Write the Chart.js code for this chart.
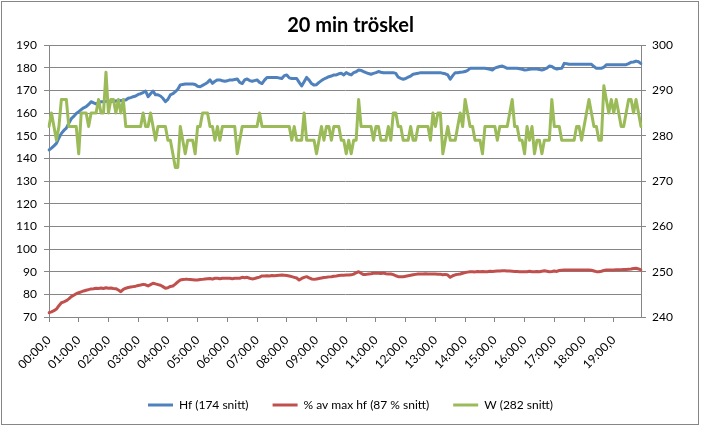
<!DOCTYPE html>
<html><head><meta charset="utf-8">
<script src="https://cdn.jsdelivr.net/npm/chart.js@4.4.1/dist/chart.umd.min.js"></script>
<style>html,body{margin:0;padding:0;background:#fff}#wrap{position:relative;width:701px;height:427px}</style>
</head><body><div id="wrap"><canvas id="c"></canvas></div>
<script>
const chartTitle = '20 min tröskel';
const seriesNames = ['Hf (174 snitt)', '% av max hf (87 % snitt)', 'W (282 snitt)'];

// Hf (left axis), one value every 5 s, 12 per minute row
const hf = [
143.7,144.5,145.5,146.6,149,151,152.3,153.3,155.5,157.5,158.5,159.8,
160.6,161.5,162.3,162.8,163.8,165,164.5,164,164.5,165,165,165.2,
165.3,165,165.5,165.2,165.6,165.4,165.7,165.7,166.5,166.8,167.2,167.5,
168.2,168.5,169,169.7,167.2,168.5,169.7,168,168,167.5,166.5,165,
166,168,168.5,169.4,170.5,172.4,172.6,172.8,172.8,172.8,172.8,172.6,
171.8,171.6,172.2,172.8,173.5,174.6,173.1,174,174.6,174.6,174.2,174,
174.2,174.6,174.6,174.8,175,173.5,173,174.6,175,174.3,174,174.3,
174.6,173.5,173,174.5,175.7,175.7,175.7,175.7,175.7,175.4,175.2,176.5,
176.8,175.5,175.2,175.2,175.2,173.5,171.9,173.8,175.7,174.5,173,172.3,
172.5,173.5,174.3,175,175.5,176,176.3,176.8,176.8,177.3,177.5,176.8,
177.8,177.2,176.8,177.8,178.2,179,178.8,178.3,177.8,177.4,177.1,177.5,
177.8,178.3,178,177.8,177.8,177.8,177.8,177.8,177.5,175.8,175.3,174.9,
175.2,175.8,176.3,177.1,177.3,177.5,177.8,177.8,177.8,177.8,177.8,177.8,
177.8,177.8,177.8,177.5,177.3,176.8,174.9,176.5,177.8,177.8,178,178.1,
178.3,178.8,179.7,179.7,179.7,179.7,179.7,179.7,179.7,179.5,179.3,179,
179.8,180.2,180.5,180.7,180.2,179.7,179.7,179.7,179.7,179.7,179.5,179.3,
179,179.1,179.3,179.4,179.4,179.4,179.2,179,179.3,179.8,180.7,180.5,
179.8,179.4,179.6,179.7,181.9,181.7,181.5,181.5,181.5,181.5,181.5,181.5,
181.5,181.5,181.5,181.5,180.5,179.7,179.7,179.7,180.2,181.3,181.3,181.3,
181.3,181.3,181.3,181.3,181.3,181.3,181.8,182.4,182.5,182.9,182.6,181.8
];

// % av max hf (left axis)
const pct = [
71.9,72.3,72.8,73.5,75,76.3,76.7,77.2,78,79,79.6,80.3,
80.7,81.1,81.5,81.8,82.1,82.4,82.5,82.7,82.6,82.8,82.6,82.9,
82.7,82.8,82.6,82.5,81.9,81.2,82.2,82.7,83,83.2,83.4,83.6,
83.9,84.1,84.4,84.2,83.7,84.3,84.9,84.6,84.3,84,83.4,82.7,
82.9,83.5,83.7,84.5,85.5,86.3,86.5,86.6,86.6,86.5,86.4,86.3,
86.3,86.5,86.6,86.8,86.9,87,86.7,87.1,87.1,86.9,87.1,87.1,
87.1,87.1,86.9,87.1,87.1,87.1,87.5,87.3,87.5,87.1,86.8,87,
87.3,87.6,88.1,88.1,88.2,88.1,88.3,88.2,88.3,88.4,88.5,88.4,
88.3,88.1,87.8,87.5,87.2,86.3,87,87.5,87.8,87.3,86.8,86.6,
86.8,87,87.2,87.4,87.5,87.7,87.8,88,88.1,88.3,88.4,88.4,
88.5,88.5,88.6,88.9,89.5,90,89.3,88.7,88.8,89,89.1,89.3,
89.3,89.3,89.2,89.4,89.1,89,89,88.7,88.2,87.8,87.8,87.8,
88,88.2,88.4,88.6,88.8,89,89,89,89.1,89,89,89,
89,88.9,88.9,88.6,88.8,88.5,87.5,88.2,88.6,88.8,89,89.3,
89.6,89.8,90,90,89.9,90.1,90,90.1,90,90,90.2,90.1,
90.2,90.3,90.3,90.4,90.4,90.3,90.3,90.2,90.1,90.1,90,90,
90,90,90.2,90,90,90.1,90,90.2,90.4,90.2,90,90.1,
90.3,90.1,90.5,90.6,90.7,90.7,90.7,90.7,90.7,90.7,90.7,90.7,
90.7,90.7,90.7,90.6,90.3,90,90,90.2,90.5,90.7,90.7,90.7,
90.7,90.8,90.8,90.9,91,91,91.1,91.2,91.4,91.5,91.2,90.8
];

// W (right axis)
const watt = [
282,285,282,279,282,288,288,288,282,282,282,282,
276,285,285,285,282,285,285,285,288,285,285,294,
285,288,288,285,288,285,288,282,282,282,282,282,
282,282,285,282,282,285,282,279,282,282,282,282,
279,279,276,273,273,282,279,276,279,279,279,276,
282,282,285,285,285,282,282,279,282,279,282,282,
282,282,282,282,276,279,282,282,282,282,282,282,
282,285,282,282,282,282,282,282,282,282,282,282,
282,282,279,282,279,279,279,285,279,279,279,279,
276,279,282,279,282,282,279,282,282,282,279,279,
276,279,276,279,279,288,282,282,282,282,282,279,
282,282,279,279,279,282,279,285,285,282,282,279,
279,279,282,279,279,282,282,282,282,282,279,285,
282,285,285,276,279,282,279,279,279,282,285,282,
288,285,282,282,279,279,279,276,282,282,282,282,
282,279,282,282,282,282,285,288,282,282,279,279,
276,282,279,282,276,279,279,276,279,279,279,288,
282,282,282,279,279,279,279,279,279,282,282,279,
282,285,288,285,282,282,279,279,291,288,285,288,
285,288,285,282,282,285,288,288,285,288,285,282
];

const leftAxis = {min: 70, max: 190, step: 10};
const rightAxis = {min: 240, max: 300, step: 10};
const sampleSeconds = 5;
const labelEvery = 12; // one labelled tick per minute

const pad2 = n => String(n).padStart(2, '0');
const timeLabels = hf.map((_, i) => {
  const s = i * sampleSeconds;
  return pad2(Math.floor(s / 60)) + ':' + pad2(s % 60) + ',0';
});

const colors = {hf: '#4F81BD', pct: '#C0504D', w: '#9BBB59', grid: '#868686', text: '#000000'};
const fontFamily = 'Lato, "Open Sans", sans-serif';

const framePlugin = {
  id: 'frame',
  beforeDraw(chart) {
    const c = chart.ctx;
    c.save();
    c.fillStyle = '#ffffff';
    c.fillRect(0, 0, chart.width, chart.height);
    c.strokeStyle = colors.grid;
    c.lineWidth = 1;
    c.strokeRect(1.5, 1.5, chart.width - 4, chart.height - 4);
    c.restore();
  }
};

const lineDs = (label, data, color, axis, order) => ({
  label, data, yAxisID: axis, order,
  borderColor: color, backgroundColor: color,
  borderWidth: 3, pointRadius: 0, pointHoverRadius: 0,
  tension: 0, fill: false, borderJoinStyle: 'round', borderCapStyle: 'round'
});

new Chart(document.getElementById('c'), {
  type: 'line',
  data: {
    labels: timeLabels,
    datasets: [
      lineDs(seriesNames[0], hf, colors.hf, 'y', 1),
      lineDs(seriesNames[1], pct, colors.pct, 'y', 1),
      lineDs(seriesNames[2], watt, colors.w, 'y1', 0)
    ]
  },
  options: {
    responsive: true,
    maintainAspectRatio: false,
    animation: false,
    events: [],
    layout: {padding: {left: 0, right: 0, top: 0, bottom: 6}},
    plugins: {
      title: {
        display: true, text: chartTitle, color: colors.text,
        font: {family: fontFamily, size: 20, weight: 'bold'},
        padding: {top: 14, bottom: 7}
      },
      legend: {
        position: 'bottom',
        labels: {
          usePointStyle: true, pointStyle: 'line', pointStyleWidth: 25,
          color: colors.text, font: {family: fontFamily, size: 12}, padding: 24,
          sort: (a, b) => a.datasetIndex - b.datasetIndex
        }
      },
      tooltip: {enabled: false}
    },
    scales: {
      x: {
        type: 'category', offset: false,
        afterBuildTicks: s => { s.ticks = s.ticks.filter(t => t.value % labelEvery === 0); },
        ticks: {autoSkip: false, maxRotation: 45, minRotation: 45, padding: 11,
                color: colors.text, font: {family: fontFamily, size: 12}},
        grid: {drawOnChartArea: false, drawTicks: true, tickLength: 5, color: colors.grid},
        border: {color: colors.grid},
        afterFit: s => { s.height = 58; }
      },
      y: {
        position: 'left', min: leftAxis.min, max: leftAxis.max,
        ticks: {stepSize: leftAxis.step, padding: 7, color: colors.text, font: {family: fontFamily, size: 12}},
        grid: {color: colors.grid, tickLength: 5},
        border: {color: colors.grid},
        afterFit: s => { s.width = 49; }
      },
      y1: {
        position: 'right', min: rightAxis.min, max: rightAxis.max,
        ticks: {stepSize: rightAxis.step, padding: 6, color: colors.text, font: {family: fontFamily, size: 12}},
        grid: {drawOnChartArea: false, color: colors.grid, tickLength: 5},
        border: {color: colors.grid},
        afterFit: s => { s.width = 60; }
      }
    }
  },
  plugins: [framePlugin]
});
</script>
</body></html>
